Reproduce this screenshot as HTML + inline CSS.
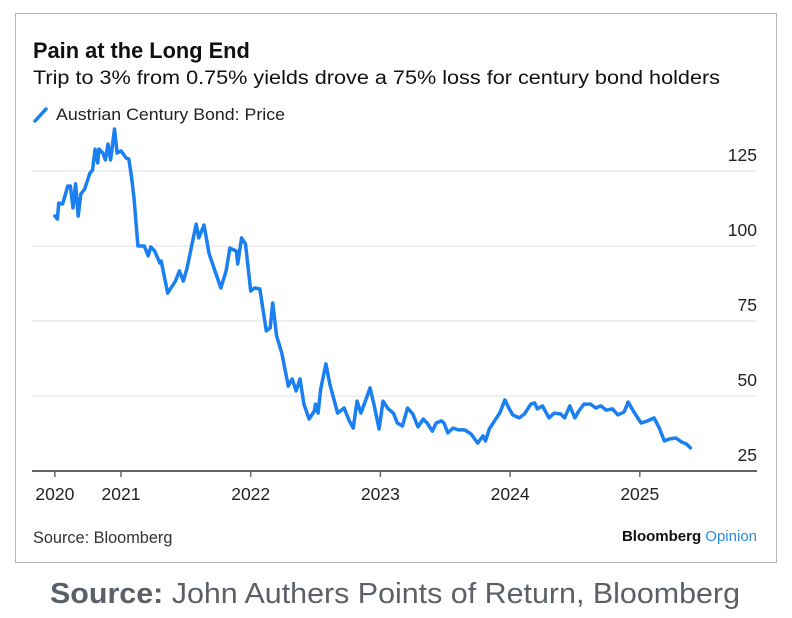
<!DOCTYPE html>
<html><head><meta charset="utf-8"><style>
html,body{margin:0;padding:0;background:#fff;}
svg{display:block;font-family:"Liberation Sans",Arial,sans-serif;}
</style></head><body>
<svg width="792" height="618" viewBox="0 0 792 618">
<rect x="15.5" y="13.5" width="761" height="549" fill="#fff" stroke="#b5b5b5"/>
<text x="33" y="58" font-size="21.8" font-weight="bold" fill="#111">Pain at the Long End</text>
<text x="33" y="84" font-size="19" fill="#111" textLength="687" lengthAdjust="spacingAndGlyphs">Trip to 3% from 0.75% yields drove a 75% loss for century bond holders</text>
<g>
<line x1="35" y1="121" x2="46" y2="109" stroke="#1a7ff0" stroke-width="3.5" stroke-linecap="round"/>
<text x="56" y="120" font-size="17" fill="#222" textLength="229" lengthAdjust="spacingAndGlyphs">Austrian Century Bond: Price</text>
</g>
<g id="grid"></g>
<g id="yticks"></g>
<line x1="32" y1="471" x2="757" y2="471" stroke="#666" stroke-width="2"/>
<g id="xticks"></g>
<path id="series" fill="none" stroke="#1a7ff0" stroke-width="3.5" stroke-linejoin="round" stroke-linecap="round"/>
<text x="33" y="543" font-size="16.3" fill="#333">Source: Bloomberg</text>
<text x="757" y="541" font-size="15" font-weight="bold" text-anchor="end" fill="#111">Bloomberg <tspan fill="#2a8be0" font-weight="normal">Opinion</tspan></text>
<text x="50" y="603" font-size="29" fill="#5b6068" textLength="690" lengthAdjust="spacingAndGlyphs"><tspan font-weight="bold">Source:</tspan> John Authers Points of Return, Bloomberg</text>
</svg>
<script>
const dates = [2020.49,2020.51,2020.52,2020.55,2020.59,2020.61,2020.63,2020.65,2020.67,2020.69,2020.72,2020.76,2020.78,2020.80,2020.82,2020.83,2020.86,2020.88,2020.90,2020.92,2020.95,2020.97,2021.00,2021.04,2021.06,2021.08,2021.10,2021.13,2021.18,2021.21,2021.23,2021.26,2021.30,2021.31,2021.33,2021.36,2021.42,2021.45,2021.48,2021.51,2021.58,2021.60,2021.64,2021.68,2021.73,2021.77,2021.81,2021.84,2021.89,2021.90,2021.93,2021.96,2022.00,2022.03,2022.07,2022.12,2022.15,2022.17,2022.20,2022.24,2022.29,2022.32,2022.35,2022.38,2022.41,2022.45,2022.49,2022.50,2022.52,2022.54,2022.58,2022.61,2022.67,2022.72,2022.76,2022.79,2022.82,2022.85,2022.89,2022.92,2022.95,2022.99,2023.02,2023.06,2023.10,2023.13,2023.17,2023.21,2023.25,2023.29,2023.33,2023.36,2023.40,2023.43,2023.47,2023.49,2023.52,2023.56,2023.60,2023.65,2023.70,2023.75,2023.79,2023.81,2023.84,2023.88,2023.92,2023.96,2023.99,2024.02,2024.07,2024.11,2024.16,2024.19,2024.21,2024.25,2024.30,2024.34,2024.39,2024.42,2024.46,2024.50,2024.53,2024.57,2024.62,2024.66,2024.70,2024.74,2024.79,2024.83,2024.88,2024.91,2024.96,2025.01,2025.06,2025.11,2025.15,2025.19,2025.23,2025.28,2025.32,2025.36,2025.39];
const prices = [110,109,114.3,114,120,120,112.7,120.7,110,117.3,119,124.3,125.3,132.3,127.7,132.3,131,128.7,134,128.7,139,131,131.7,129.3,129,123.3,116,100,100,96.7,99.7,98.3,94.3,95,90.7,84.3,88.3,91.7,88.3,92.7,107.3,102.7,107,97.3,91,86,91.7,99.3,98.3,94,102.7,100.7,85,86,85.7,71.7,72.7,81,70,64.3,53.3,55.7,51.7,55.7,47.3,42.3,45,47.3,44.3,52.3,60.7,54,44.3,46,41.7,39.3,48.3,44.3,49,52.7,47.3,39,48.3,45.7,44.3,41,40,46,44,39.7,42.3,41,38.3,41,41.7,41,37.7,39.3,38.7,38.7,37.3,34.3,36.7,35,39,41.7,44.3,48.7,46,43.7,42.7,44,47.3,47.7,45.7,46.7,42.7,44.3,44,42.7,46.7,42.7,45,47.3,47.3,46,46.7,45.3,45.7,43.7,44.7,48,44.3,41,41.7,42.7,39.3,35,35.7,36,34.7,34,32.7];
const yTickValues = [25,50,75,100,125];
const xTickYears = [2021,2022,2023,2024,2025];
const firstLabel = "2020";

const NS = "http://www.w3.org/2000/svg";
function xs(t){ return 121 + (t - 2021) * 129.7; }
function ys(v){ return 471 - (v - 25) * 3; }
function mk(tag, attrs, parent, txt){
  const el = document.createElementNS(NS, tag);
  for (const k in attrs) el.setAttribute(k, attrs[k]);
  if (txt !== undefined) el.textContent = txt;
  parent.appendChild(el);
  return el;
}
const grid = document.getElementById('grid');
const yt = document.getElementById('yticks');
yTickValues.forEach(v => {
  if (v > 25) {
    const g = mk('line', {x1:32, x2:757, y1:ys(v), y2:ys(v), stroke:'#ececec', 'stroke-width':1.5}, grid);
    
    
  }
  const t = mk('text', {x:757, y:ys(v) - 10, 'font-size':17.5, 'text-anchor':'end', fill:'#222'}, yt, String(v));
  
  
});
const xt = document.getElementById('xticks');
function xtick(x, label){
  const l = mk('line', {x1:x, x2:x, y1:471, y2:477, stroke:'#666', 'stroke-width':1.5}, xt);
  
  
  const t = mk('text', {x:x, y:500, 'font-size':17.5, 'text-anchor':'middle', fill:'#222'}, xt, label);
  
  
}
xtick(xs(dates[0]), firstLabel);
xTickYears.forEach(y => xtick(xs(y), String(y)));
let d = '';
dates.forEach((t, i) => { d += (i ? 'L' : 'M') + xs(t).toFixed(1) + ' ' + ys(prices[i]).toFixed(1); });
document.getElementById('series').setAttribute('d', d);
</script>
</body></html>
